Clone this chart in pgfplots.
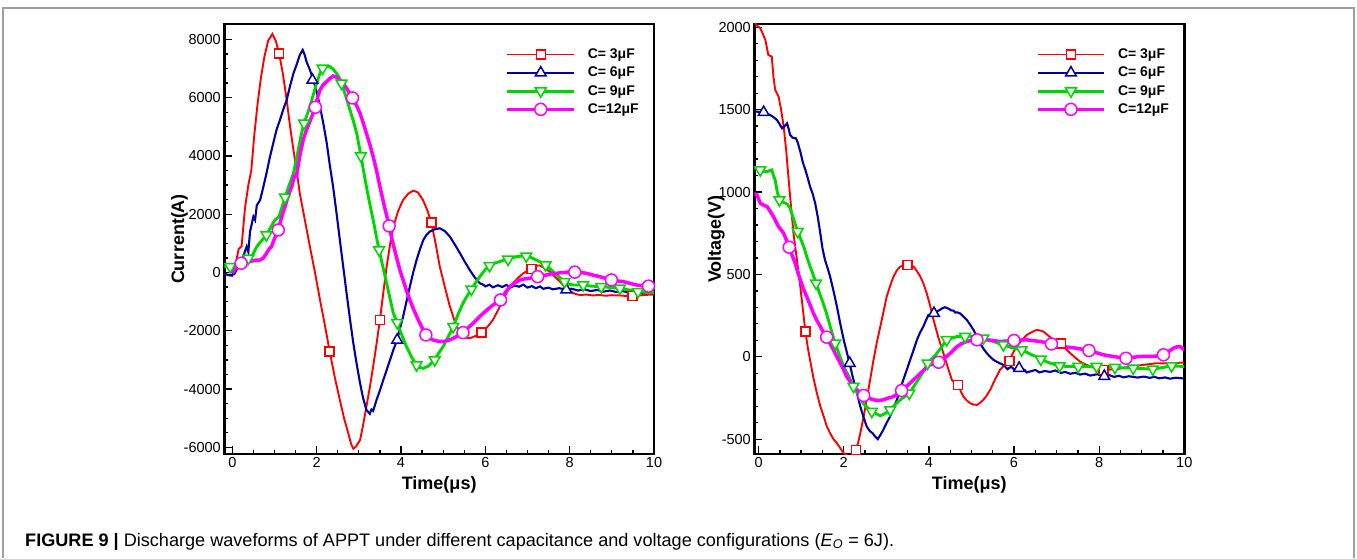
\documentclass[border=0pt]{standalone}
\usepackage{fontspec}
\setmainfont{Liberation Sans}
\usepackage{pgfplots}
\pgfplotsset{compat=1.18}

\definecolor{cred}{RGB}{255,0,0}
\definecolor{cblue}{RGB}{0,0,165}
\definecolor{cgreen}{RGB}{0,215,0}
\definecolor{cmag}{RGB}{255,0,255}

\newcommand{\tickfont}{\fontsize{14.5}{17}\selectfont}
\newcommand{\labfont}{\bfseries\fontsize{18}{20}\selectfont}

\pgfplotsset{
  tecplot/.style={
    scale only axis,
    height=430pt,
    xmax=10,
    xtick={0,2,...,10},
    minor x tick num=3,
    tick pos=left,
    tick align=inside,
    major tick length=8pt,
    minor tick length=4pt,
    every tick/.style={black, line width=1.3pt},
    axis line style={line width=2.6pt},
    xticklabel={\tickfont\pgfmathprintnumber[assume math mode=true]{\tick}},
    yticklabel={\tickfont\pgfmathprintnumber[assume math mode=true,1000 sep={}]{\tick}},
    every axis x label/.style={at={(axis description cs:0.5,-0.0814)}, anchor=base, font=\labfont},
    xlabel={Time(μs)},
    legend cell align=left,
    legend style={draw=none, fill=none, inner sep=0pt, anchor=north west,
      row sep=3pt, column sep=10pt,
      font=\bfseries\fontsize{14}{16}\selectfont},
    legend image code/.code={\draw[##1, mark repeat=2, mark phase=2]
      plot coordinates {(0pt,0pt) (33.3pt,0pt) (66.6pt,0pt)};},
  },
  sred/.style={cred, line width=1.9pt},
  sblue/.style={cblue, line width=2.1pt},
  sgreen/.style={cgreen, line width=2.9pt},
  smag/.style={cmag, line width=3.5pt},
  mred/.style={cred, mark=square*, mark size=4.5pt, mark options={solid, fill=white, line width=1.5pt}},
  mblue/.style={cblue, mark=triangle*, mark size=6.2pt, mark options={solid, fill=white, line width=1.5pt}},
  mgreen/.style={cgreen, mark=triangle*, mark size=6.2pt, mark options={solid, fill=white, line width=1.5pt, rotate=180}},
  mmag/.style={cmag, mark=*, mark size=6pt, mark options={solid, fill=white, line width=1.5pt}},
}

\begin{document}
\begin{tikzpicture}
\useasboundingbox (0pt,0pt) rectangle (1357pt,558pt);
\draw[gray!75, line width=1.2pt] (3pt,0pt) -- (3pt,550pt) -- (1354pt,550pt) -- (1354pt,0pt);

% ---------------- current ----------------
\begin{axis}[tecplot,
  at={(224.3pt,104pt)}, anchor=south west, width=429.7pt,
  xmin=-0.19, ymin=-6230, ymax=8525,
  ytick={-6000,-4000,...,8000}, minor y tick num=3,
  every axis y label/.style={at={(axis description cs:-0.0937,0.5)}, rotate=90, anchor=base, font=\labfont},
  ylabel={Current(A)},
  legend style={at={(axis description cs:0.6544,0.9472)}},
]
\addlegendimage{sred, mred}\addlegendentry{C= 3μF}
\addlegendimage{sblue, mblue}\addlegendentry{C= 6μF}
\addlegendimage{sgreen, mgreen}\addlegendentry{C= 9μF}
\addlegendimage{smag, mmag}\addlegendentry{C=12μF}

\addplot[sred, forget plot] coordinates {
(-0.19,-60) (0.0,-120) (0.08,300) (0.15,800) (0.22,900) (0.3,2200) (0.38,3000) (0.45,3500)
(0.52,4700) (0.6,5800) (0.68,6700) (0.76,7400) (0.85,7950) (0.95,8180) (1.03,7950) (1.11,7520)
(1.2,6800) (1.29,5918) (1.37,5000) (1.45,4200) (1.53,3450) (1.6,2716) (1.72,1800) (1.84,886)
(1.96,0) (2.08,-944) (2.2,-1850) (2.31,-2717) (2.43,-3600) (2.55,-4375) (2.65,-5000) (2.75,-5519)
(2.82,-5900) (2.87,-6050) (2.93,-5980) (3.03,-5750) (3.1,-5250) (3.18,-4600) (3.26,-3950)
(3.34,-3230) (3.42,-2450) (3.5,-1630) (3.58,-700) (3.66,200) (3.74,950) (3.82,1572) (3.93,2100)
(4.05,2487) (4.17,2700) (4.29,2807) (4.4,2750) (4.52,2487) (4.62,2150) (4.72,1709) (4.82,1000)
(4.92,200) (5.04,-500) (5.16,-1173) (5.28,-1700) (5.4,-2088) (5.52,-2230) (5.63,-2260)
(5.77,-2180) (5.91,-2054) (6.05,-1870) (6.18,-1630) (6.3,-1300) (6.42,-944) (6.54,-600)
(6.66,-372) (6.78,-180) (6.9,-30) (7.0,60) (7.09,120) (7.2,230) (7.29,240) (7.4,150) (7.53,28)
(7.65,-150) (7.76,-300) (7.88,-480) (8.0,-640) (8.12,-730) (8.24,-775) (8.4,-760) (8.55,-790)
(8.7,-770) (8.85,-800) (9.0,-780) (9.2,-790) (9.35,-810) (9.49,-800) (9.65,-790) (9.8,-770) (10,-760)
};
\addplot[mred, only marks, forget plot] coordinates {
(1.11,7520) (2.31,-2717) (3.5,-1630) (4.72,1709) (5.91,-2054) (7.09,120) (9.49,-800)
};

\addplot[sblue, forget plot] coordinates {
(-0.19,-50) (-0.05,-100) (0.05,-50) (0.1,85) (0.2,300) (0.27,600) (0.34,885) (0.38,700) (0.42,1400)
(0.5,1915) (0.54,1800) (0.58,2300) (0.66,2487) (0.73,2900) (0.81,3402) (0.89,3950) (0.97,4431) (1.05,4900)
(1.13,5232) (1.21,5600) (1.29,5918) (1.37,6400) (1.45,6833) (1.53,7150) (1.6,7462) (1.67,7634)
(1.72,7450) (1.76,7234) (1.84,6950) (1.92,6605) (2.0,6200) (2.08,5690) (2.16,5100) (2.24,4431)
(2.31,3700) (2.39,2945) (2.47,2050) (2.55,1114) (2.63,200) (2.71,-716) (2.79,-1600) (2.87,-2431)
(2.95,-3150) (3.03,-3804) (3.1,-4300) (3.18,-4719) (3.26,-4850) (3.3,-4700) (3.34,-4750) (3.42,-4375)
(3.5,-4050) (3.58,-3689) (3.66,-3350) (3.74,-3003) (3.82,-2650) (3.91,-2317) (3.98,-1900)
(4.05,-1516) (4.13,-1000) (4.21,-487) (4.29,0) (4.37,428) (4.45,800) (4.53,1114) (4.6,1280)
(4.68,1400) (4.8,1480) (4.92,1515) (5.04,1420) (5.16,1229) (5.28,950) (5.4,657) (5.52,350)
(5.63,85) (5.75,-170) (5.87,-372) (5.95,-420) (6.0,-480) (6.1,-420) (6.18,-510) (6.3,-440) (6.4,-500)
(6.5,-430) (6.6,-510) (6.7,-450) (6.8,-490) (6.9,-420) (7.0,-520) (7.1,-470) (7.2,-540) (7.3,-480)
(7.37,-560) (7.5,-520) (7.6,-580) (7.75,-540) (7.92,-590) (8.05,-560) (8.2,-620) (8.35,-580)
(8.5,-640) (8.65,-600) (8.8,-660) (8.95,-620) (9.1,-670) (9.25,-640) (9.4,-690) (9.55,-660)
(9.7,-710) (9.85,-680) (10,-715)
};
\addplot[mblue, only marks, forget plot] coordinates {
(1.9,6600) (3.91,-2317) (7.92,-595)
};

\addplot[sgreen, forget plot] coordinates {
(-0.19,200) (-0.05,200) (0.05,280) (0.18,430) (0.28,470) (0.38,485) (0.48,600) (0.58,885)
(0.7,1100) (0.81,1286) (0.91,1550) (1.01,1800) (1.1,1900) (1.18,2250) (1.25,2578) (1.35,3000)
(1.45,3402) (1.55,4100) (1.63,4700) (1.7,5118) (1.77,5400) (1.84,5690) (1.92,6100) (2.0,6490)
(2.07,6800) (2.14,7005) (2.22,7060) (2.31,7062) (2.39,6980) (2.47,6833) (2.53,6700) (2.59,6490)
(2.69,6050) (2.79,5575) (2.87,5200) (2.95,4775) (3.05,4000) (3.11,3500) (3.18,2945) (3.26,2350)
(3.34,1800) (3.41,1280) (3.48,771) (3.57,200) (3.66,-372) (3.74,-900) (3.82,-1402) (3.91,-1722)
(4.02,-2150) (4.13,-2545) (4.25,-2900) (4.37,-3175) (4.45,-3260) (4.53,-3290) (4.64,-3220)
(4.76,-3060) (4.88,-2800) (5.0,-2545) (5.12,-2200) (5.24,-1860) (5.35,-1450) (5.47,-1059)
(5.57,-800) (5.67,-578) (5.77,-350) (5.87,-144) (6.0,100) (6.1,234) (6.22,320) (6.34,371)
(6.44,420) (6.54,451) (6.64,500) (6.74,543) (6.86,560) (6.97,560) (7.05,540) (7.13,480)
(7.21,428) (7.32,350) (7.43,257) (7.54,120) (7.65,-30) (7.77,-180) (7.88,-316) (7.98,-400)
(8.08,-430) (8.2,-430) (8.32,-430) (8.5,-470) (8.75,-487) (9.0,-520) (9.19,-544) (9.4,-600)
(9.62,-658) (9.8,-680) (10,-690)
};
\addplot[mgreen, only marks, forget plot] coordinates {
(-0.05,200) (0.38,485) (0.81,1286) (1.25,2578) (1.7,5118) (2.14,7005) (2.59,6490) (3.05,4000)
(3.48,771) (3.91,-1722) (4.37,-3175) (4.8,-3000) (5.24,-1860) (5.67,-578) (6.1,234) (6.54,451)
(6.97,560) (7.43,257) (7.88,-316) (8.32,-430) (8.75,-487) (9.19,-544) (9.62,-658)
};

\addplot[smag, forget plot] coordinates {
(0,-20) (0.1,200) (0.21,314) (0.3,350) (0.42,371) (0.54,420) (0.66,428) (0.74,500) (0.81,657)
(0.87,800) (0.93,886) (1.01,1200) (1.09,1458) (1.17,1900) (1.25,2258) (1.33,2650) (1.41,2945)
(1.47,3300) (1.52,3288) (1.6,4000) (1.68,4546) (1.75,4850) (1.82,5118) (1.9,5400) (1.97,5667)
(2.02,6000) (2.08,6262) (2.16,6450) (2.24,6547) (2.31,6650) (2.39,6742) (2.47,6700) (2.55,6604)
(2.63,6480) (2.71,6319) (2.78,6150) (2.85,5987) (2.94,5750) (3.03,5460) (3.1,5150) (3.18,4775)
(3.26,4400) (3.34,3974) (3.42,3500) (3.5,2945) (3.61,2250) (3.72,1595) (3.8,1050) (3.89,543)
(3.97,100) (4.05,-258) (4.13,-620) (4.21,-944) (4.31,-1300) (4.41,-1630) (4.5,-1900) (4.59,-2145)
(4.67,-2250) (4.76,-2317) (4.88,-2360) (5.0,-2374) (5.12,-2330) (5.24,-2260) (5.35,-2170)
(5.47,-2065) (5.59,-1900) (5.71,-1745) (5.83,-1570) (5.95,-1402) (6.07,-1250) (6.18,-1116)
(6.27,-1030) (6.36,-944) (6.47,-700) (6.58,-487) (6.7,-350) (6.82,-258) (6.94,-220) (7.05,-200)
(7.14,-170) (7.24,-144) (7.35,-110) (7.45,-86) (7.57,-50) (7.69,-30) (7.78,-10) (7.88,0)
(8.0,20) (8.12,28) (8.26,0) (8.4,-30) (8.55,-90) (8.71,-144) (8.85,-200) (8.99,-258)
(9.13,-290) (9.27,-316) (9.42,-370) (9.58,-430) (9.72,-460) (9.87,-470) (10,-480)
};
\addplot[mmag, only marks, forget plot] coordinates {
(0.21,314) (1.09,1458) (1.97,5667) (2.85,5987) (3.72,1595) (4.59,-2145) (5.47,-2065)
(6.36,-944) (7.24,-144) (8.12,10) (8.99,-258) (9.87,-470)
};
\end{axis}

% ---------------- voltage ----------------
\begin{axis}[tecplot,
  at={(754.3pt,104pt)}, anchor=south west, width=430pt,
  xmin=-0.1, ymin=-590, ymax=2020,
  ytick={-500,0,...,2000}, minor y tick num=4,
  every axis y label/.style={at={(axis description cs:-0.078,0.5)}, rotate=90, anchor=base, font=\labfont},
  ylabel={Voltage(V)},
  legend style={at={(axis description cs:0.6544,0.9472)}},
]
\addlegendimage{sred, mred}\addlegendentry{C= 3μF}
\addlegendimage{sblue, mblue}\addlegendentry{C= 6μF}
\addlegendimage{sgreen, mgreen}\addlegendentry{C= 9μF}
\addlegendimage{smag, mmag}\addlegendentry{C=12μF}

\addplot[sred, forget plot] coordinates {
(-0.1,2030) (-0.05,2014) (0.04,1994) (0.1,1960) (0.16,1923) (0.2,1870) (0.23,1832) (0.31,1822)
(0.35,1700) (0.39,1620) (0.47,1579) (0.53,1500) (0.59,1397) (0.65,1250) (0.7,1094) (0.76,920)
(0.82,750) (0.9,590) (0.98,426) (1.04,290) (1.1,153) (1.16,50) (1.21,-19) (1.29,-130) (1.37,-221)
(1.45,-300) (1.53,-362) (1.6,-420) (1.68,-464) (1.76,-500) (1.84,-524) (1.92,-555) (2.0,-585)
(2.1,-600) (2.2,-600) (2.29,-565) (2.34,-520) (2.39,-464) (2.47,-360) (2.54,-261) (2.62,-140)
(2.7,-19) (2.78,90) (2.86,184) (2.94,280) (3.01,366) (3.09,430) (3.17,487) (3.25,525) (3.33,548)
(3.42,555) (3.5,558) (3.57,555) (3.64,548) (3.72,520) (3.8,487) (3.88,440) (3.95,386) (4.03,310)
(4.11,224) (4.22,120) (4.34,22) (4.44,-60) (4.54,-140) (4.62,-160) (4.69,-170) (4.75,-210)
(4.81,-241) (4.89,-265) (4.97,-282) (5.05,-290) (5.13,-292) (5.2,-280) (5.28,-261) (5.36,-235)
(5.44,-201) (5.55,-140) (5.67,-79) (5.78,-50) (5.89,-25) (5.97,20) (6.06,62) (6.18,100) (6.3,133)
(6.42,150) (6.53,163) (6.61,160) (6.69,153) (6.8,130) (6.92,103) (7.01,90) (7.1,82) (7.21,50)
(7.32,22) (7.44,-5) (7.55,-29) (7.67,-45) (7.79,-59) (7.95,-70) (8.1,-79) (8.25,-78) (8.41,-75)
(8.57,-68) (8.72,-59) (8.88,-55) (9.04,-49) (9.2,-44) (9.35,-39) (9.5,-40) (9.66,-39) (9.83,-37) (10,-35)
};
\addplot[mred, only marks, forget plot] coordinates {
(1.1,153) (2.29,-565) (3.5,558) (4.69,-170) (5.89,-25) (7.1,82) (8.1,-79)
};

\addplot[sblue, forget plot] coordinates {
(-0.1,1490) (-0.04,1488) (0.05,1486) (0.12,1484) (0.2,1475) (0.27,1468) (0.35,1455) (0.43,1438)
(0.5,1410) (0.55,1387) (0.61,1400) (0.67,1417) (0.71,1380) (0.74,1347) (0.8,1330) (0.88,1326)
(0.92,1300) (0.98,1246) (1.04,1180) (1.1,1134) (1.15,1090) (1.21,1033) (1.27,990) (1.33,932)
(1.39,850) (1.45,750) (1.5,660) (1.56,588) (1.62,540) (1.68,487) (1.76,400) (1.84,305) (1.92,200)
(2.0,103) (2.07,30) (2.14,-39) (2.2,-110) (2.27,-180) (2.33,-240) (2.39,-302) (2.47,-370)
(2.54,-423) (2.61,-450) (2.68,-464) (2.74,-485) (2.8,-500) (2.86,-475) (2.93,-443) (3.01,-400)
(3.09,-362) (3.17,-310) (3.25,-261) (3.32,-200) (3.4,-140) (3.48,-80) (3.56,-19) (3.64,40)
(3.72,103) (3.79,145) (3.87,184) (3.93,220) (3.99,254) (4.06,258) (4.12,264) (4.19,275)
(4.26,285) (4.32,295) (4.38,301) (4.48,290) (4.52,282) (4.58,280) (4.62,268) (4.66,270) (4.73,264) (4.81,245)
(4.89,224) (4.97,195) (5.05,163) (5.12,125) (5.2,82) (5.28,50) (5.36,22) (5.44,0) (5.52,-19)
(5.63,-35) (5.75,-49) (5.85,-75) (5.93,-60) (6.02,-80) (6.12,-69) (6.25,-80) (6.3,-95) (6.38,-89)
(6.5,-80) (6.6,-95) (6.72,-86) (6.85,-92) (6.97,-83) (7.1,-98) (7.2,-92) (7.32,-103) (7.44,-97)
(7.55,-108) (7.67,-102) (7.79,-114) (7.95,-106) (8.12,-118) (8.25,-112) (8.35,-122) (8.46,-115)
(8.57,-125) (8.7,-118) (8.9,-126) (9.05,-120) (9.19,-128) (9.3,-121) (9.4,-131) (9.55,-125)
(9.66,-133) (9.8,-127) (10,-132)
};
\addplot[mblue, only marks, forget plot] coordinates {
(0.12,1484) (2.14,-39) (4.12,264) (6.12,-69) (8.12,-118)
};

\addplot[sgreen, forget plot] coordinates {
(-0.1,1145) (-0.04,1144) (0.04,1134) (0.12,1125) (0.2,1124) (0.26,1130) (0.31,1134) (0.35,1100)
(0.39,1073) (0.44,1000) (0.49,952) (0.56,940) (0.63,932) (0.68,925) (0.74,902) (0.83,830)
(0.92,760) (0.99,715) (1.06,669) (1.13,610) (1.21,548) (1.28,500) (1.35,447) (1.42,395)
(1.49,345) (1.57,285) (1.64,224) (1.72,150) (1.8,82) (1.9,10) (2.0,-59) (2.12,-120) (2.23,-180)
(2.34,-230) (2.46,-282) (2.56,-310) (2.66,-332) (2.76,-345) (2.86,-358) (2.97,-345) (3.09,-322)
(3.21,-290) (3.33,-261) (3.44,-240) (3.54,-221) (3.67,-170) (3.8,-120) (3.89,-80) (3.97,-39)
(4.08,-10) (4.19,22) (4.3,60) (4.42,103) (4.54,113) (4.66,123) (4.76,125) (4.85,123) (4.95,125)
(5.05,123) (5.17,118) (5.28,113) (5.4,103) (5.52,93) (5.63,82) (5.75,72) (5.87,62) (5.99,52)
(6.08,47) (6.18,42) (6.3,27) (6.42,12) (6.53,0) (6.63,-15) (6.74,-27) (6.85,-39) (6.96,-47)
(7.07,-55) (7.2,-58) (7.32,-59) (7.51,-59) (7.7,-60) (7.94,-59) (8.15,-62) (8.37,-65) (8.6,-67)
(8.8,-69) (9.05,-72) (9.26,-75) (9.5,-65) (9.7,-55) (9.85,-57) (10,-59)
};
\addplot[mgreen, only marks, forget plot] coordinates {
(0.04,1134) (0.49,952) (0.92,760) (1.35,447) (1.8,82) (2.23,-180) (2.66,-332) (3.09,-322)
(3.54,-221) (3.97,-39) (4.42,103) (4.85,123) (5.28,113) (5.75,72) (6.18,42) (6.63,-15)
(7.07,-55) (7.51,-59) (7.94,-59) (8.37,-65) (8.8,-69) (9.26,-75) (9.7,-55)
};

\addplot[smag, forget plot] coordinates {
(-0.1,990) (-0.04,983) (0.04,932) (0.12,920) (0.2,912) (0.28,880) (0.35,851) (0.41,820) (0.47,790)
(0.53,770) (0.59,750) (0.66,705) (0.72,665) (0.79,615) (0.86,568) (0.92,515) (0.98,467)
(1.05,415) (1.13,366) (1.21,315) (1.29,264) (1.37,220) (1.45,184) (1.52,150) (1.6,119) (1.68,80)
(1.76,42) (1.84,0) (1.92,-39) (2.0,-80) (2.07,-120) (2.15,-150) (2.23,-180) (2.35,-210)
(2.47,-235) (2.58,-250) (2.7,-261) (2.82,-265) (2.93,-261) (3.05,-250) (3.17,-241) (3.27,-225)
(3.36,-205) (3.46,-183) (3.56,-160) (3.68,-130) (3.8,-100) (3.91,-75) (4.03,-49) (4.13,-40)
(4.23,-33) (4.32,-15) (4.42,2) (4.54,30) (4.66,62) (4.77,80) (4.89,93) (5.01,100) (5.13,103)
(5.24,104) (5.36,103) (5.52,98) (5.67,93) (5.84,96) (6.0,99) (6.15,101) (6.3,103) (6.45,98)
(6.61,93) (6.75,86) (6.88,78) (7.02,70) (7.16,62) (7.31,57) (7.47,52) (7.62,45) (7.76,38)
(7.93,25) (8.1,12) (8.21,7) (8.33,2) (8.48,-4) (8.63,-9) (8.8,-3) (8.96,2) (9.1,2) (9.27,2)
(9.4,7) (9.51,12) (9.62,30) (9.74,52) (9.82,60) (9.9,62) (10,42)
};
\addplot[mmag, only marks, forget plot] coordinates {
(0.72,665) (1.6,119) (2.47,-235) (3.36,-205) (4.23,-33) (5.13,103) (6.0,99) (6.88,78)
(7.76,38) (8.63,-9) (9.51,12)
};
\end{axis}

\node[anchor=base west, inner sep=0pt, font=\fontsize{18.1}{20}\selectfont] at (25pt,12pt)
  {\textbf{FIGURE 9 |} Discharge waveforms of APPT under different capacitance and voltage configurations (\textit{E}\textsubscript{\textit{O}} = 6J).};
\end{tikzpicture}
\end{document}
